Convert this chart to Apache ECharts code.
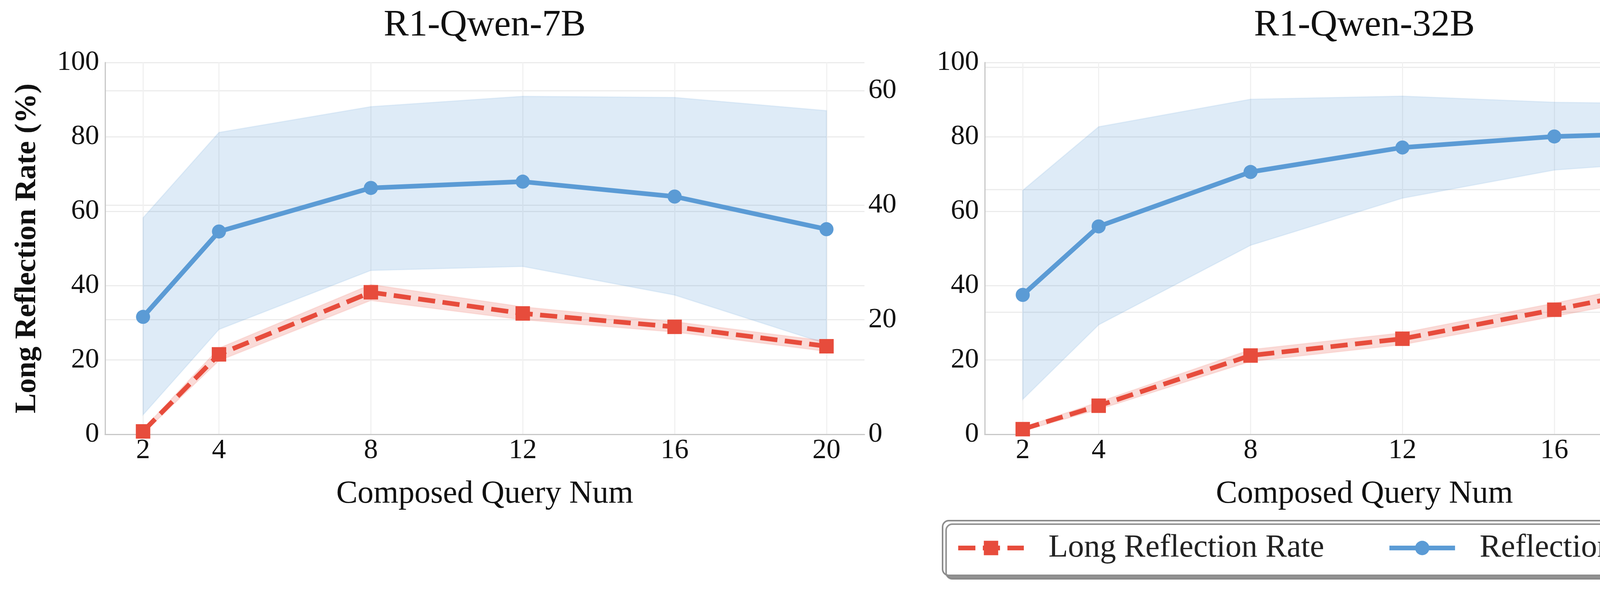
<!DOCTYPE html>
<html><head><meta charset="utf-8">
<script src="https://cdn.jsdelivr.net/npm/echarts@6/dist/echarts.min.js"></script>
<style>html,body{margin:0;padding:0;background:#fff}#c{width:6951px;height:1508px}</style>
</head><body><div id="c"></div>
<script>
// ---------- data ----------
const queryNums = [2, 4, 8, 12, 16, 20];
const panelTitles = ['R1-Qwen-7B', 'R1-Qwen-32B', 'Deepseek-R1'];
const leftTickMax = 100;
const rightAxisMax = [64.9, 60.8, 41.0];
const rightAxisInterval = [20, 20, 10];

// R1-Qwen-7B
const q7_rate    = [0.8, 21.5, 38.2, 32.5, 28.9, 23.7];
const q7_rateLo  = [0.2, 19.8, 36.0, 30.8, 27.5, 22.3];
const q7_rateHi  = [1.4, 23.2, 40.3, 34.3, 30.3, 25.1];
const q7_freq    = [20.5, 35.4, 43.0, 44.1, 41.5, 35.8];
const q7_freqLo  = [3.4, 18.3, 28.6, 29.3, 24.3, 15.8];
const q7_freqHi  = [37.8, 52.7, 57.2, 59.0, 58.8, 56.5];

// R1-Qwen-32B
const q32_rate   = [1.4, 7.7, 21.2, 25.7, 33.5, 41.5];
const q32_rateLo = [0.9, 6.7, 19.6, 24.1, 31.7, 39.3];
const q32_rateHi = [1.9, 8.7, 22.8, 27.3, 35.3, 43.7];
const q32_freq   = [22.8, 34.0, 42.9, 46.9, 48.7, 49.4];
const q32_freqLo = [5.7, 17.9, 30.9, 38.6, 43.2, 45.0];
const q32_freqHi = [39.9, 50.3, 54.8, 55.3, 54.3, 54.0];

// Deepseek-R1
const ds_rate    = [0.6, 2.0, 5.2, 6.2, 9.4, 12.5];
const ds_rateLo  = [0.3, 1.4, 4.2, 5.2, 8.2, 11.0];
const ds_rateHi  = [0.9, 2.6, 6.2, 7.2, 10.6, 14.0];
const ds_freq    = [8.05, 11.5, 16.3, 19.4, 22.6, 25.8];
const ds_freqLo  = [1.1, 3.2, 6.4, 8.8, 11.8, 14.3];
const ds_freqHi  = [15.2, 19.9, 26.4, 30.0, 33.3, 37.3];

const panels = [
  {rate: q7_rate, rateLo: q7_rateLo, rateHi: q7_rateHi, freq: q7_freq, freqLo: q7_freqLo, freqHi: q7_freqHi},
  {rate: q32_rate, rateLo: q32_rateLo, rateHi: q32_rateHi, freq: q32_freq, freqLo: q32_freqLo, freqHi: q32_freqHi},
  {rate: ds_rate, rateLo: ds_rateLo, rateHi: ds_rateHi, freq: ds_freq, freqLo: ds_freqLo, freqHi: ds_freqHi}
];

// ---------- style ----------
const RED = '#E74C3C', BLUE = '#5B9BD5';
const FONT = 'Liberation Serif';
const TXT = '#111';
const gridLeft = [269, 2521, 4774];
const gridTop = 160, gridW = 1944, gridH = 952;

const chart = echarts.init(document.getElementById('c'), null, {renderer: 'canvas'});

function bandSeries(gi, yi, lo, hi, fill, stroke, z) {
  return {
    type: 'custom', xAxisIndex: gi, yAxisIndex: yi, z: z, silent: true, clip: false,
    data: queryNums.map((x, i) => [x, lo[i], hi[i]]),
    encode: {x: 0, y: [1, 2]},
    renderItem: function (params, api) {
      if (params.dataIndex !== 0) return null;
      const pts = [];
      for (let i = 0; i < queryNums.length; i++) pts.push(api.coord([queryNums[i], hi[i]]));
      for (let i = queryNums.length - 1; i >= 0; i--) pts.push(api.coord([queryNums[i], lo[i]]));
      return {type: 'polygon', shape: {points: pts}, style: {fill: fill, stroke: stroke, lineWidth: 3}};
    }
  };
}

const grids = [], xAxes = [], yAxes = [], series = [], titles = [];
panels.forEach((p, gi) => {
  grids.push({left: gridLeft[gi], top: gridTop, width: gridW, height: gridH});
  titles.push({
    text: panelTitles[gi], left: gridLeft[gi] + gridW / 2, top: 18, textAlign: 'center', padding: 0,
    textStyle: {fontFamily: FONT, fontSize: 96, fontWeight: 'normal', color: TXT, lineHeight: 96}
  });
  xAxes.push({
    type: 'value', gridIndex: gi, min: 1, max: 21,
    name: 'Composed Query Num', nameLocation: 'middle', nameGap: 112,
    nameTextStyle: {fontFamily: FONT, fontSize: 82, color: TXT, lineHeight: 82},
    axisLine: {show: true, onZero: false, lineStyle: {color: '#c8c8c8', width: 3}},
    axisTick: {show: false, customValues: queryNums},
    axisLabel: {customValues: queryNums, margin: 6, fontFamily: FONT, fontSize: 72, color: TXT},
    splitLine: {show: true, customValues: queryNums, lineStyle: {color: '#f1f1f1', width: 3}}
  });
  const leftAxis = {
    type: 'value', gridIndex: gi, position: 'left', min: 0, max: leftTickMax, interval: 20,
    axisLine: {show: true, lineStyle: {color: '#c8c8c8', width: 3}},
    axisTick: {show: false},
    axisLabel: {margin: 15, fontFamily: FONT, fontSize: 72, color: TXT},
    splitLine: {show: true, lineStyle: {color: '#ececec', width: 3}}
  };
  if (gi === 0) {
    leftAxis.name = 'Long Reflection Rate (%)';
    leftAxis.nameLocation = 'middle';
    leftAxis.nameGap = 160;
    leftAxis.nameRotate = 90;
    leftAxis.nameTextStyle = {fontFamily: FONT, fontSize: 77, fontWeight: 'bold', color: TXT, lineHeight: 77};
  }
  const rightAxis = {
    type: 'value', gridIndex: gi, position: 'right', min: 0, max: rightAxisMax[gi], interval: rightAxisInterval[gi],
    axisLine: {show: false},
    axisTick: {show: false},
    axisLabel: {margin: 10, showMaxLabel: false, fontFamily: FONT, fontSize: 72, color: TXT},
    splitLine: {show: true, lineStyle: {color: '#ececec', width: 3}}
  };
  if (gi === 2) {
    rightAxis.name = 'Reflection Frequency';
    rightAxis.nameLocation = 'middle';
    rightAxis.nameGap = 134;
    rightAxis.nameRotate = 90;
    rightAxis.nameTextStyle = {fontFamily: FONT, fontSize: 77, fontWeight: 'bold', color: TXT, lineHeight: 77};
  }
  yAxes.push(leftAxis, rightAxis);
  const yl = 2 * gi, yr = 2 * gi + 1;
  series.push(bandSeries(gi, yr, p.freqLo, p.freqHi, 'rgba(91,155,213,0.2)', 'rgba(91,155,213,0.12)', 1));
  series.push(bandSeries(gi, yl, p.rateLo, p.rateHi, 'rgba(231,76,60,0.2)', 'rgba(231,76,60,0.1)', 2));
  series.push({
    type: 'line', name: 'Reflection Frequency', xAxisIndex: gi, yAxisIndex: yr, z: 4, silent: true,
    data: queryNums.map((x, i) => [x, p.freq[i]]),
    symbol: 'circle', symbolSize: 36, showAllSymbol: true,
    lineStyle: {color: BLUE, width: 12}, itemStyle: {color: BLUE}
  });
  series.push({
    type: 'line', name: 'Long Reflection Rate', xAxisIndex: gi, yAxisIndex: yl, z: 5, silent: true,
    data: queryNums.map((x, i) => [x, p.rate[i]]),
    symbol: 'rect', symbolSize: 37, showAllSymbol: true,
    lineStyle: {color: RED, width: 12, type: [44, 19], cap: 'butt'}, itemStyle: {color: RED}
  });
});

chart.setOption({
  animation: false,
  backgroundColor: '#ffffff',
  title: titles,
  grid: grids,
  xAxis: xAxes,
  yAxis: yAxes,
  legend: {
    left: 2413, top: 1333, orient: 'horizontal', selectedMode: false,
    data: ['Long Reflection Rate', 'Reflection Frequency'],
    itemWidth: 168, itemHeight: 46, itemGap: 161,
    padding: [29, 34, 29, 34],
    backgroundColor: '#ffffff', borderColor: '#8c8c8c', borderWidth: 4, borderRadius: 16,
    shadowColor: 'rgba(128,128,128,0.85)', shadowOffsetX: 9, shadowOffsetY: 9, shadowBlur: 0,
    lineStyle: {width: 12},
    textStyle: {fontFamily: FONT, fontSize: 82, color: '#222', lineHeight: 82, padding: [0, 0, 0, 58]}
  },
  series: series
});
</script></body></html>
